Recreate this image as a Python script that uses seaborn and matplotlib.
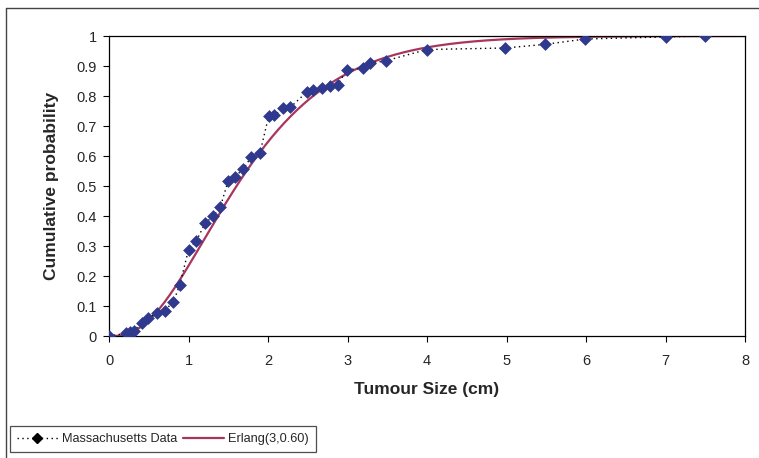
from math import factorial

import numpy as np
import pandas as pd
import matplotlib
matplotlib.use("Agg")
import matplotlib.pyplot as plt
from matplotlib.lines import Line2D
import seaborn as sns

# Observed tumour sizes (cm) and their cumulative probabilities
size_cm = [0.00, 0.22, 0.26, 0.31, 0.41, 0.49, 0.60, 0.70, 0.81, 0.89,
           1.00, 1.10, 1.21, 1.31, 1.40, 1.50, 1.58, 1.69, 1.79, 1.90,
           2.01, 2.08, 2.19, 2.28, 2.49, 2.57, 2.68, 2.78, 2.88, 2.99,
           3.20, 3.28, 3.49, 4.00, 4.98, 5.48, 5.99, 7.00, 7.50]
cum_prob = [0.000, 0.009, 0.012, 0.018, 0.042, 0.060, 0.076, 0.085, 0.114, 0.170,
            0.287, 0.318, 0.376, 0.399, 0.430, 0.518, 0.531, 0.556, 0.598, 0.611,
            0.735, 0.736, 0.759, 0.762, 0.814, 0.820, 0.826, 0.834, 0.838, 0.887,
            0.893, 0.909, 0.918, 0.955, 0.960, 0.972, 0.990, 0.997, 1.000]

# Fitted Erlang distribution parameters (shape k, scale theta)
erlang_k = 3
erlang_theta = 0.60

x_ticks = [0, 1, 2, 3, 4, 5, 6, 7, 8]
y_ticks = [0, 0.1, 0.2, 0.3, 0.4, 0.5, 0.6, 0.7, 0.8, 0.9, 1]
y_tick_labels = ["0", "0.1", "0.2", "0.3", "0.4", "0.5", "0.6", "0.7", "0.8", "0.9", "1"]

data_label = "Massachusetts Data"
fit_label = f"Erlang({erlang_k},{erlang_theta:.2f})"

# Erlang CDF on a fine grid: 1 - exp(-z) * sum_{n<k} z^n / n!
grid = np.linspace(0, 8, 400)
z = grid / erlang_theta
series_sum = np.zeros_like(z)
for n in range(erlang_k):
    series_sum += z ** n / factorial(n)
erlang_cdf = 1 - np.exp(-z) * series_sum

obs = pd.DataFrame({"size": size_cm, "prob": cum_prob})
fit = pd.DataFrame({"size": grid, "prob": erlang_cdf})

sns.set_style("white")
plt.rcParams["font.family"] = ["Liberation Sans", "DejaVu Sans"]

fig = plt.figure(figsize=(7.59, 4.58), dpi=100)
ax = fig.add_axes([109 / 759, 1 - 336 / 458, (745 - 109) / 759, (336 - 36) / 458])

navy = "#2f3a8f"
maroon = "#a8365c"
dotted = (0, (1, 2.5))

sns.lineplot(data=fit, x="size", y="prob", ax=ax, color=maroon, linewidth=1.6,
             sort=False, estimator=None, zorder=2)
sns.lineplot(data=obs, x="size", y="prob", ax=ax, color="black", linewidth=1.0,
             linestyle=dotted, sort=False, estimator=None, zorder=3)
sns.scatterplot(data=obs, x="size", y="prob", ax=ax, marker="D", s=36, color=navy,
                edgecolor=navy, linewidth=0.5, zorder=4)

ax.set_xlim(0, 8)
ax.set_ylim(0, 1)
ax.set_xticks(x_ticks)
ax.set_xticklabels([str(t) for t in x_ticks])
ax.set_yticks(y_ticks)
ax.set_yticklabels(y_tick_labels)
ax.tick_params(axis="both", direction="out", length=4, width=0.8, color="black",
               labelsize=10.5, pad=5, bottom=True, left=True)
ax.tick_params(axis="x", pad=9)
for side in ["left", "bottom", "top", "right"]:
    ax.spines[side].set_visible(True)
    ax.spines[side].set_color("black")
    ax.spines[side].set_linewidth(0.9)

ax.set_xlabel("Tumour Size (cm)", fontsize=12.5, fontweight="bold", labelpad=10)
ax.set_ylabel("Cumulative probability", fontsize=12.5, fontweight="bold", labelpad=12)

handles = [
    Line2D([], [], color="black", linestyle=dotted, linewidth=1.0,
           marker="D", markersize=5, markerfacecolor="black", markeredgecolor="black"),
    Line2D([], [], color=maroon, linewidth=1.6),
]
leg = fig.legend(handles, [data_label, fit_label], loc="upper left",
                 bbox_to_anchor=(10 / 759, 1 - 426 / 458), ncol=2, frameon=True,
                 fancybox=False, edgecolor="#222222", fontsize=9.2,
                 handlelength=3.2, handletextpad=0.3, columnspacing=0.5,
                 borderpad=0.55, borderaxespad=0)
leg.get_frame().set_linewidth(0.9)

# Outer chart frame
fig.add_artist(Line2D([6 / 759, 6 / 759], [0, 1 - 8 / 458], transform=fig.transFigure,
                      color="#444444", linewidth=1.0))
fig.add_artist(Line2D([6 / 759, 1], [1 - 8 / 458, 1 - 8 / 458], transform=fig.transFigure,
                      color="#444444", linewidth=1.0))

fig.savefig("out.png", dpi=100)
